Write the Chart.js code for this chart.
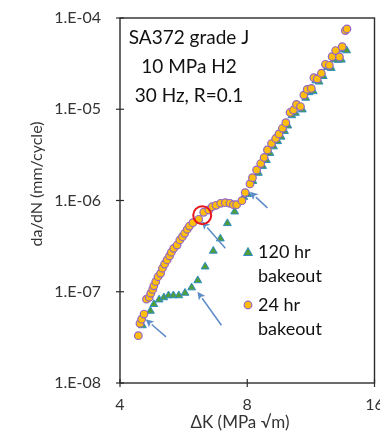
<!DOCTYPE html>
<html>
<head>
<meta charset="utf-8">
<style>
  html, body { margin: 0; padding: 0; background: #fff; }
  #wrap { width: 380px; height: 435px; }
</style>
<script src="https://cdn.jsdelivr.net/npm/chart.js@4.4.1/dist/chart.umd.min.js"></script>
</head>
<body>
<div id="wrap"><canvas id="c" width="380" height="435"></canvas></div>
<script>
// Stress-intensity range ΔK (MPa √m) and crack growth rate da/dN (mm/cycle)
// 24 hr bakeout specimen
const dk24 = [4.42, 4.46, 4.50, 4.56, 4.62, 4.69, 4.73, 4.78, 4.81, 4.86, 4.92, 4.99, 5.04, 5.10, 5.17, 5.24, 5.29, 5.36, 5.46, 5.54, 5.62, 5.69, 5.77, 5.84, 5.95, 6.14, 6.31, 6.49, 6.61, 6.75, 6.92, 7.10, 7.28, 7.42, 7.55, 7.77, 7.91, 8.12, 8.23, 8.42, 8.61, 8.77, 8.93, 9.13, 9.34, 9.51, 9.69, 9.87, 10.10, 10.29, 10.46, 10.69, 10.89, 11.09, 11.34, 11.50, 11.71, 11.98, 12.25, 12.51, 12.70, 12.95, 13.22, 13.42, 13.65, 13.77];
const rate24 = [3.3e-8, 4.5e-8, 5.0e-8, 5.7e-8, 8.3e-8, 8.7e-8, 9.6e-8, 1.06e-7, 1.16e-7, 1.29e-7, 1.46e-7, 1.59e-7, 1.81e-7, 2.01e-7, 2.23e-7, 2.47e-7, 2.71e-7, 2.99e-7, 3.25e-7, 3.69e-7, 4.01e-7, 4.37e-7, 4.84e-7, 5.25e-7, 5.71e-7, 6.22e-7, 7.43e-7, 7.87e-7, 8.55e-7, 8.86e-7, 9.32e-7, 9.46e-7, 9.32e-7, 8.99e-7, 8.99e-7, 9.95e-7, 1.22e-6, 1.52e-6, 1.78e-6, 2.16e-6, 2.54e-6, 2.96e-6, 3.58e-6, 4.21e-6, 4.78e-6, 5.36e-6, 6.18e-6, 7.12e-6, 9.21e-6, 9.81e-6, 1.13e-5, 1.07e-5, 1.43e-5, 1.65e-5, 1.69e-5, 2.22e-5, 2.15e-5, 2.48e-5, 3.11e-5, 3.03e-5, 3.77e-5, 4.40e-5, 3.74e-5, 4.85e-5, 7.29e-5, 7.58e-5];

// 120 hr bakeout specimen
const dk120 = [4.52, 4.72, 4.81, 4.95, 5.08, 5.21, 5.35, 5.51, 5.70, 5.91, 6.11, 6.36, 6.65, 6.91, 7.18, 7.47, 7.85, 8.02, 8.25, 8.50, 8.70, 8.88, 9.05, 9.23, 9.44, 9.62, 9.80, 9.98, 10.20, 10.40, 10.58, 10.80, 11.00, 11.20, 11.46, 11.62, 11.83, 12.10, 12.38, 12.64, 12.83, 13.12, 13.36, 13.55, 13.75];
const rate120 = [4.27e-8, 6.15e-8, 7.29e-8, 8.18e-8, 8.65e-8, 9.10e-8, 9.10e-8, 9.10e-8, 9.69e-8, 1.11e-7, 1.33e-7, 1.88e-7, 2.80e-7, 3.82e-7, 5.62e-7, 7.54e-7, 1.09e-6, 1.17e-6, 1.63e-6, 2.00e-6, 2.38e-6, 2.76e-6, 3.30e-6, 3.90e-6, 4.45e-6, 4.98e-6, 5.75e-6, 6.60e-6, 8.55e-6, 9.10e-6, 1.05e-5, 9.90e-6, 1.33e-5, 1.53e-5, 1.57e-5, 2.06e-5, 2.00e-5, 2.30e-5, 2.89e-5, 2.82e-5, 3.50e-5, 3.47e-5, 3.48e-5, 4.50e-5, 4.40e-5];

// Axis ticks
const xTicks = [4, 8, 16];
const yTicks = [1e-8, 1e-7, 1e-6, 1e-5, 1e-4];

// Arrows pointing at transitions: [tail ΔK, tail da/dN, head ΔK, head da/dN]
const arrows = [
  [8.93, 8.3e-7, 8.12, 1.25e-6],
  [7.10, 3.0e-7, 6.25, 5.9e-7],
  [6.95, 4.3e-8, 6.10, 1.0e-7],
  [5.14, 3.2e-8, 4.60, 5.0e-8]
];
// Highlighted point (ring)
const ringPoint = [6.26, 6.9e-7];

const legendItems = [
  { lines: ['120 hr', 'bakeout'], shape: 'triangle' },
  { lines: ['24 hr', 'bakeout'], shape: 'circle' }
];
const noteLines = ['SA372 grade J', '10 MPa H2', '30 Hz, R=0.1'];

const FONT = 'Lato, "Open Sans", sans-serif';
const CIRCLE_FILL = '#FFBE0B', CIRCLE_EDGE = '#9166C4';
const TRI_FILL = '#4F9E37', TRI_EDGE = '#2F8CC4';
const ARROW = '#5B8CC8';

function toPoints(xs, ys) { return xs.map((x, i) => ({ x: x, y: ys[i] })); }

function fmtExp(v) {
  const e = Math.round(Math.log10(v));
  const s = Math.abs(e) < 10 ? '0' + Math.abs(e) : '' + Math.abs(e);
  return '1.E' + (e < 0 ? '-' : '+') + s;
}

const decor = {
  id: 'decor',
  afterDatasetsDraw(chart) {
    const { ctx, chartArea: a, scales } = chart;
    const xs = scales.x, ys = scales.y;
    ctx.save();

    // arrows
    ctx.strokeStyle = ARROW; ctx.fillStyle = ARROW; ctx.lineWidth = 1.5;
    arrows.forEach(r => {
      const x0 = xs.getPixelForValue(r[0]), y0 = ys.getPixelForValue(r[1]);
      const x1 = xs.getPixelForValue(r[2]), y1 = ys.getPixelForValue(r[3]);
      const ang = Math.atan2(y1 - y0, x1 - x0);
      const hl = 8, hw = 4;
      const bx = x1 - hl * Math.cos(ang), by = y1 - hl * Math.sin(ang);
      ctx.beginPath(); ctx.moveTo(x0, y0); ctx.lineTo(bx, by); ctx.stroke();
      ctx.beginPath();
      ctx.moveTo(x1, y1);
      ctx.lineTo(bx + hw * Math.sin(ang), by - hw * Math.cos(ang));
      ctx.lineTo(bx + 2 * Math.cos(ang), by + 2 * Math.sin(ang));
      ctx.lineTo(bx - hw * Math.sin(ang), by + hw * Math.cos(ang));
      ctx.closePath(); ctx.fill();
    });

    // ring around highlighted point
    ctx.strokeStyle = '#E8141B'; ctx.lineWidth = 2;
    ctx.beginPath();
    ctx.arc(xs.getPixelForValue(ringPoint[0]), ys.getPixelForValue(ringPoint[1]), 9, 0, Math.PI * 2);
    ctx.stroke();

    // frame
    ctx.strokeStyle = '#2b2b2b'; ctx.lineWidth = 1.4;
    ctx.strokeRect(a.left, a.top, a.right - a.left, a.bottom - a.top);

    // cross tick marks
    ctx.lineWidth = 1.2;
    xTicks.forEach(v => {
      const px = xs.getPixelForValue(v);
      ctx.beginPath(); ctx.moveTo(px, a.bottom - 4); ctx.lineTo(px, a.bottom + 4); ctx.stroke();
    });
    yTicks.forEach(v => {
      const py = ys.getPixelForValue(v);
      ctx.beginPath(); ctx.moveTo(a.left - 4, py); ctx.lineTo(a.left + 4, py); ctx.stroke();
    });

    // note text
    ctx.fillStyle = '#111';
    ctx.font = '19px ' + FONT;
    ctx.textAlign = 'center'; ctx.textBaseline = 'middle';
    noteLines.forEach((t, i) => ctx.fillText(t, 189, 38 + i * 29));

    // legend
    ctx.font = '18px ' + FONT;
    ctx.textAlign = 'left';
    legendItems.forEach((it, i) => {
      const my = 252 + i * 53;
      const mx = 248;
      if (it.shape === 'triangle') {
        ctx.beginPath();
        ctx.moveTo(mx, my - 4.5); ctx.lineTo(mx + 4.5, my + 3.5); ctx.lineTo(mx - 4.5, my + 3.5);
        ctx.closePath();
        ctx.fillStyle = TRI_FILL; ctx.fill();
        ctx.strokeStyle = TRI_EDGE; ctx.lineWidth = 1; ctx.stroke();
      } else {
        ctx.beginPath(); ctx.arc(mx, my, 3.8, 0, Math.PI * 2);
        ctx.fillStyle = CIRCLE_FILL; ctx.fill();
        ctx.strokeStyle = CIRCLE_EDGE; ctx.lineWidth = 1.2; ctx.stroke();
      }
      ctx.fillStyle = '#111';
      it.lines.forEach((t, j) => ctx.fillText(t, 258, my + j * 24));
    });

    // axis titles
    ctx.fillStyle = '#333';
    ctx.font = '17px ' + FONT;
    ctx.textAlign = 'center';
    ctx.fillText('ΔK (MPa √m)', 240, 423);
    ctx.font = '16px ' + FONT;
    ctx.translate(37, 184); ctx.rotate(-Math.PI / 2);
    ctx.fillText('da/dN (mm/cycle)', 0, 0);
    ctx.restore();
  }
};

new Chart(document.getElementById('c'), {
  type: 'scatter',
  data: {
    datasets: [
      {
        label: '24 hr bakeout',
        data: toPoints(dk24, rate24),
        pointStyle: 'circle', pointRadius: 3.8,
        backgroundColor: CIRCLE_FILL, borderColor: CIRCLE_EDGE, borderWidth: 1.2,
        order: 0
      },
      {
        label: '120 hr bakeout',
        data: toPoints(dk120, rate120),
        pointStyle: 'triangle', pointRadius: 4.5,
        backgroundColor: TRI_FILL, borderColor: TRI_EDGE, borderWidth: 1,
        order: 1
      }
    ]
  },
  options: {
    responsive: false,
    animation: false,
    layout: { padding: { top: 18, right: 4, left: 0, bottom: 0 } },
    plugins: { legend: { display: false }, tooltip: { enabled: false } },
    scales: {
      x: {
        type: 'logarithmic', min: 4, max: 16,
        grid: { display: false, drawTicks: false },
        border: { display: false },
        afterBuildTicks: s => { s.ticks = xTicks.map(v => ({ value: v })); },
        ticks: { color: '#333', font: { family: FONT, size: 16 }, padding: 12, maxRotation: 0, autoSkip: false,
                 callback: v => String(v) },
        afterFit: s => { s.height = 52; s.paddingLeft = 0; s.paddingRight = 0; }
      },
      y: {
        type: 'logarithmic', min: 1e-8, max: 1e-4,
        grid: { display: false, drawTicks: false },
        border: { display: false },
        afterBuildTicks: s => { s.ticks = yTicks.map(v => ({ value: v })); },
        ticks: { color: '#333', font: { family: FONT, size: 16 }, padding: 19, autoSkip: false,
                 callback: v => fmtExp(v) },
        afterFit: s => { s.width = 120; s.paddingTop = 0; s.paddingBottom = 0; }
      }
    }
  },
  plugins: [decor]
});
</script>
</body>
</html>
